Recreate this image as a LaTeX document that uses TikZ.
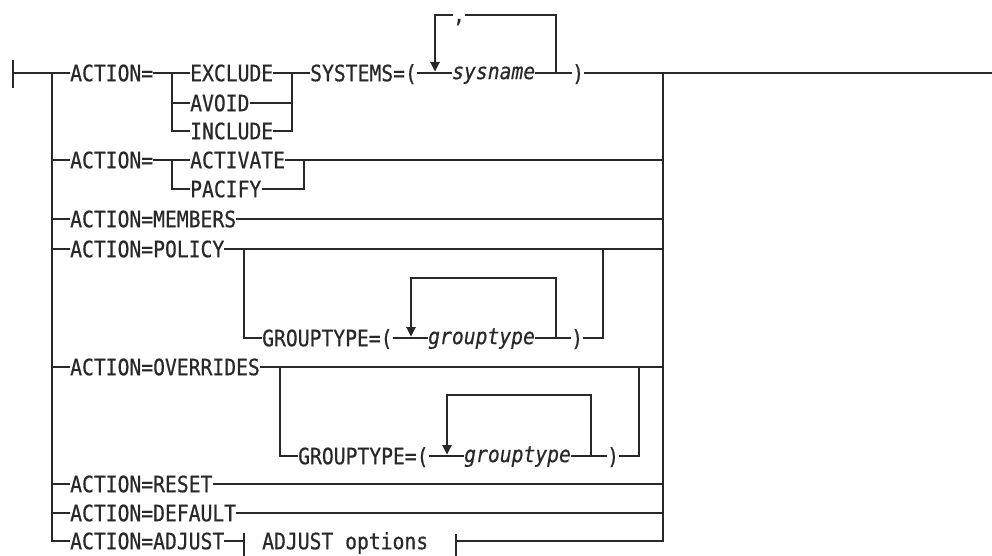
\documentclass[tikz,border=0pt]{standalone}
\usepackage{fontspec}
\newfontfamily\railfont[FakeStretch=0.875,FakeBold=0.6]{DejaVu Sans Mono}
\usetikzlibrary{arrows.meta}
\usepackage{xcolor}
\definecolor{railgray}{RGB}{40,40,40}

\tikzset{
  kw/.style={anchor=west, inner sep=0pt, text height=16.4pt, text depth=0pt,
    text=railgray, font={\railfont\fontsize{22.5pt}{25pt}\selectfont}},
  var/.style={kw, text height=12.3pt, font={\railfont\itshape\fontsize{22.5pt}{25pt}\selectfont}},
  rail/.style={draw=railgray, line width=1.1pt},
  back/.style={rail, -{Triangle[width=9.5pt,length=9.5pt]}},
}

\begin{document}
\begin{tikzpicture}[x=1pt,y=-1pt]
    \useasboundingbox (0,0) rectangle (992,556);
    \pgfmathsetmacro{\rl}{52}	% left rail
    \pgfmathsetmacro{\rr}{663}	% right rail

    \coordinate (start) at (13,73);
    \coordinate (lsplit) at (\rl,73);
    \coordinate (rjoin) at (\rr,73);
    \coordinate (stop) at (992,73);

    \draw[rail] (13,60) -- (13,88);
    \draw[rail] (start) -- (lsplit);

    % ACTION=EXCLUDE|AVOID|INCLUDE SYSTEMS=(...)
    \node[kw] (act1) at (70,73) {ACTION=};
    \node[kw] (excl) at (190,73) {EXCLUDE};
    \node[kw] (avoid) at (190,103) {AVOID};
    \node[kw] (incl) at (190,131) {INCLUDE};
    \node[kw] (sys) at (310,73) {SYSTEMS=(};
    \node[var] (sysname) at (452,73) {sysname};
    \node[kw] (sysend) at (572,73) {)};
    \coordinate (s1) at (172,73);
    \coordinate (j1) at (292,73);
    \coordinate (sysR) at (556,73);
    \coordinate (sysT) at (435,15);
    \coordinate (sysL) at (435,71.5);

    \draw[rail] (lsplit) -- (act1) -- (excl) -- (sys) -- (sysname) -- (sysend) -- (stop);
    \draw[rail] (s1) |- (avoid) -| (j1);
    \draw[rail] (s1) |- (incl) -| (j1);
    \draw[back] (sysR) |- (sysT) -- (sysL);
    \node[kw, anchor=north, fill=white, text height=10pt, text depth=2pt] (comma) at (459,12) {,};

    % ACTION=ACTIVATE|PACIFY
    \node[kw] (act2) at (70,160) {ACTION=};
    \node[kw] (actv) at (190,160) {ACTIVATE};
    \node[kw] (pacify) at (190,189) {PACIFY};
    \coordinate (s2) at (172,160);
    \coordinate (j2) at (304,160);
    \draw[rail] (lsplit |- act2) -- (act2) -- (actv) -- (rjoin |- actv);
    \draw[rail] (s2) |- (pacify) -| (j2);

    \node[kw] (memb) at (70,219) {ACTION=MEMBERS};
    \draw[rail] (lsplit |- memb) -- (memb) -- (rjoin |- memb);

    % ACTION=POLICY
    \node[kw] (pol) at (70,249) {ACTION=POLICY};
    \node[kw] (gt1) at (262,338) {GROUPTYPE=(};
    \node[var] (gtv1) at (428,338) {grouptype};
    \node[kw] (gtend1) at (571,338) {)};
    \coordinate (s4) at (244,249);
    \coordinate (j4) at (603,249);
    \coordinate (g1R) at (556,338);
    \coordinate (g1T) at (411,278);
    \coordinate (g1L) at (411,336.5);
    \draw[rail] (lsplit |- pol) -- (pol) -- (rjoin |- pol);
    \draw[rail] (s4) |- (gt1) -- (gtv1) -- (gtend1) -| (j4);
    \draw[back] (g1R) |- (g1T) -- (g1L);

    % ACTION=OVERRIDES
    \node[kw] (ovr) at (70,367) {ACTION=OVERRIDES};
    \node[kw] (gt2) at (298,456) {GROUPTYPE=(};
    \node[var] (gtv2) at (464,456) {grouptype};
    \node[kw] (gtend2) at (607,456) {)};
    \coordinate (s5) at (280,367);
    \coordinate (j5) at (639,367);
    \coordinate (g2R) at (591,456);
    \coordinate (g2T) at (447,395);
    \coordinate (g2L) at (447,454.5);
    \draw[rail] (lsplit |- ovr) -- (ovr) -- (rjoin |- ovr);
    \draw[rail] (s5) |- (gt2) -- (gtv2) -- (gtend2) -| (j5);
    \draw[back] (g2R) |- (g2T) -- (g2L);

    \node[kw] (reset) at (70,484) {ACTION=RESET};
    \node[kw] (dflt) at (70,513) {ACTION=DEFAULT};
    \draw[rail] (lsplit |- reset) -- (reset) -- (rjoin |- reset);
    \draw[rail] (lsplit |- dflt) -- (dflt) -- (rjoin |- dflt);

    % ACTION=ADJUST with fragment
    \node[kw] (adj) at (70,541) {ACTION=ADJUST};
    \node[kw] (adjopt) at (262,541) {ADJUST options};
    \coordinate (fragL) at (244,541);
    \coordinate (fragR) at (456,541);
    \draw[rail] (lsplit) |- (adj) -- (fragL);
    \draw[rail] ([yshift=8pt]fragL) -- ++(0,23);
    \draw[rail] ([yshift=7pt]fragR) -- ++(0,23);
    \draw[rail] (fragR) -| (rjoin);
\end{tikzpicture}
\end{document}
